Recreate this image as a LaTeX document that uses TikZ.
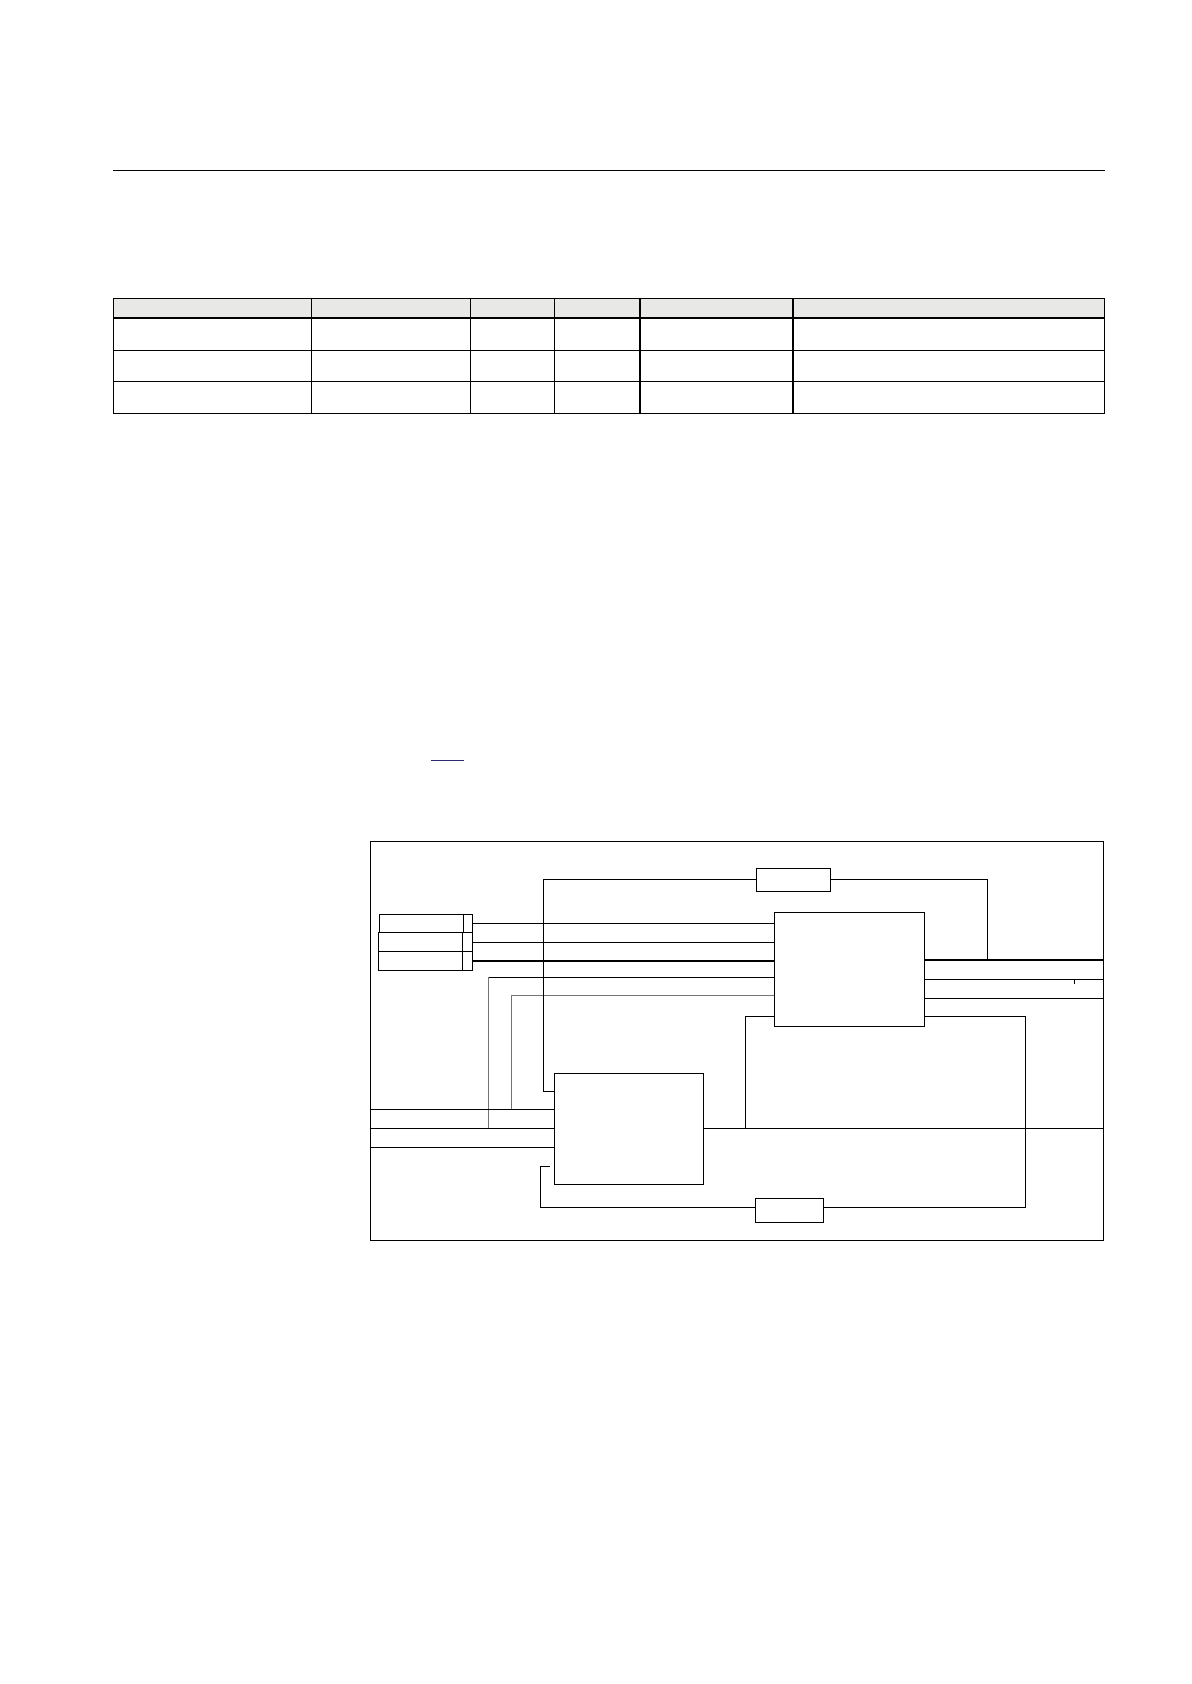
\documentclass[tikz,border=0pt]{standalone}
\usepackage{tikz}
\usetikzlibrary{positioning}
\definecolor{headgray}{HTML}{E8E8E6}
\definecolor{linkblue}{HTML}{2E2A6E}

\begin{document}
\begin{tikzpicture}[x=0.5pt,y=-0.5pt,line width=0.6pt,
  blk/.style={draw, fill=white, inner sep=0pt, outer sep=0pt},
  wire/.style={draw, line width=0.55pt},
  faint/.style={draw, line width=0.5pt, black!55}]
    \path[use as bounding box] (0,0) rectangle (1191,1684);

    % page rule and table
    \draw (113.3,170.3) -- (1105,170.3);
    \fill[headgray] (113.3,298.3) rectangle (1104.8,318);
    \foreach \y in {298.3,318,350.3,381.3,413.3}
      \draw (113.3,\y) -- (1104.8,\y);
    \foreach \x in {113.3,311.2,470.4,554.8,640,793,1104.8}
      \draw (\x,298.3) -- (\x,413.3);
    \draw[linkblue] (431,760.3) -- (463.7,760.3);

    % diagram
    \node [draw, inner sep=0pt, minimum width=366.5pt, minimum height=199.5pt] (frame) at (736.8,1040.8) {};
    \node [blk, minimum width=75pt, minimum height=57.2pt] (ctrl) at (849.3,969.5) {};
    \node [blk, minimum width=74.7pt, minimum height=55.45pt] (unit) at (629,1128.75) {};
    \node [blk, minimum width=37pt, minimum height=11.5pt] (rtop) at (793.3,879.8) {};
    \node [blk, minimum width=33.95pt, minimum height=12pt] (rbot) at (789.45,1210.3) {};

    \node [blk, minimum width=42.2pt, minimum height=9.2pt] (s1) at (421.5,923.5) {};
    \node [blk, minimum width=4.3pt, minimum height=9.2pt, right=0pt of s1] (t1) {};
    \node [blk, minimum width=42pt, minimum height=9.5pt] (s2) at (420.3,942.2) {};
    \node [blk, minimum width=5pt, minimum height=9.5pt, right=0pt of s2] (t2) {};
    \node [blk, minimum width=42pt, minimum height=9.3pt] (s3) at (420.3,961) {};
    \node [blk, minimum width=5pt, minimum height=9.3pt, right=0pt of s3] (t3) {};

    \coordinate (k1) at (543.3,1091.3);
    \coordinate (j1) at (987.3,960);
    \coordinate (g1) at (488.7,1128.3);
    \coordinate (g2) at (511,1109.3);
    \coordinate (m1) at (745.3,1128.3);
    \coordinate (n1) at (1025.3,1207.3);
    \coordinate (p0) at (540.8,1166.7);
    \coordinate (p1) at (550.2,1166.7);

    % inputs to ctrl
    \path[wire] (t1.east) -- (t1.east -| ctrl.west)
                (t2.east) -- (t2.east -| ctrl.west)
                (t3.east) -- (t3.east -| ctrl.west);
    \path[faint] (g1) -- (g1 |- 0,977.3);
    \path[wire] (g1 |- 0,977.3) -- (ctrl.west |- 0,977.3);
    \path[faint] (g2) |- (ctrl.west |- 0,995.7);

    % feedback over rtop
    \path[wire] (rtop.west) -| (k1) -- (k1 -| unit.west)
                (rtop.east) -| (j1);

    % outputs of ctrl
    \path[wire] (ctrl.east |- 0,960) -- (frame.east |- 0,960)
                (ctrl.east |- 0,979.3) -- (frame.east |- 0,979.3)
                (ctrl.east |- 0,998.3) -- (frame.east |- 0,998.3)
                (1074.3,979.3) -- (1074.3,983.7);

    % lower part
    \path[wire] (frame.west |- 0,1109.3) -- (unit.west |- 0,1109.3)
                (frame.west |- 0,1128.3) -- (unit.west |- 0,1128.3)
                (frame.west |- 0,1147.3) -- (unit.west |- 0,1147.3)
                (unit.east) -- (unit.east -| frame.east)
                (m1) |- (ctrl.west |- 0,1016.3)
                (ctrl.east |- 0,1016.3) -| (n1) -- ([yshift=1.5pt]rbot.east)
                ([yshift=1.5pt]rbot.west) -| (p0) -- (p1);
\end{tikzpicture}
\end{document}
